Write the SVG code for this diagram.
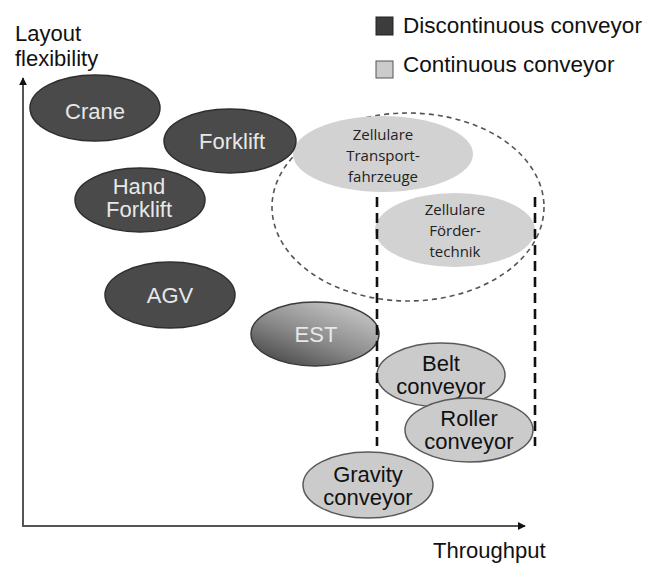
<svg xmlns="http://www.w3.org/2000/svg" width="651" height="565" viewBox="0 0 651 565">
  <defs>
    <marker id="arrow" viewBox="0 0 10 10" refX="9" refY="5" markerWidth="8" markerHeight="8" orient="auto" markerUnits="userSpaceOnUse">
      <path d="M0,0 L10,5 L0,10 z" fill="#111"/>
    </marker>
    <linearGradient id="estGrad" x1="0.85" y1="0.1" x2="0.2" y2="0.95">
      <stop offset="0" stop-color="#c4c4c4"/>
      <stop offset="0.55" stop-color="#8a8a8a"/>
      <stop offset="1" stop-color="#4e4e4e"/>
    </linearGradient>
    <style>
      .lbl { font-family: "Liberation Sans", Arial, sans-serif; font-size: 22px; fill: #111; }
      .leg { font-family: "Liberation Sans", Arial, sans-serif; font-size: 22.5px; fill: #111; }
      .axis { stroke: #555; stroke-width: 2; fill: none; }
      .dark { fill: #4a4a4a; stroke: #2e2e2e; stroke-width: 1.5; }
      .light { fill: #cbcbcb; stroke: #5a5a5a; stroke-width: 1.5; }
      .cell { fill: #d2d2d2; stroke: none; }
      .dt { font-family: "Liberation Sans", Arial, sans-serif; font-size: 22px; fill: #e8e8e8; text-anchor: middle; }
      .lt { font-family: "Liberation Sans", Arial, sans-serif; font-size: 22px; fill: #111; text-anchor: middle; }
      .ct { font-family: "Open Sans", "Noto Sans", sans-serif; font-size: 15px; fill: #222; text-anchor: middle; }
      .zone { fill: none; stroke: #555; stroke-width: 1.6; stroke-dasharray: 5 4; }
      .bound { fill: none; stroke: #111; stroke-width: 2.6; stroke-dasharray: 10 6; }
    </style>
  </defs>

  <!-- axes -->
  <g id="axes">
    <line class="axis" x1="23" y1="527" x2="23" y2="78" marker-end="url(#arrow)"/>
    <line class="axis" x1="22" y1="526" x2="525" y2="526" marker-end="url(#arrow)"/>
    <text class="lbl" x="15" y="41">Layout</text>
    <text class="lbl" x="15" y="66">flexibility</text>
    <text class="lbl" x="433" y="558">Throughput</text>
  </g>

  <!-- legend -->
  <g id="legend">
    <rect x="376" y="17" width="17" height="18" fill="#3c3c3c" stroke="#222" stroke-width="1"/>
    <text class="leg" x="403" y="33">Discontinuous conveyor</text>
    <rect x="376" y="61" width="17" height="17" fill="#cbcbcb" stroke="#555" stroke-width="1"/>
    <text class="leg" x="403" y="72">Continuous conveyor</text>
  </g>

  <!-- cellular zone -->
  <g id="cell-zone">
    <ellipse class="zone" cx="408" cy="207" rx="136" ry="94"/>
  </g>

  <g id="zellulare-transport">
    <ellipse class="cell" cx="383" cy="154" rx="90" ry="38"/>
    <text class="ct" x="383" y="140">Zellulare</text>
    <text class="ct" x="383" y="161">Transport-</text>
    <text class="ct" x="383" y="182">fahrzeuge</text>
  </g>

  <g id="zellulare-foerder">
    <ellipse class="cell" cx="455" cy="230" rx="80" ry="37"/>
    <text class="ct" x="455" y="215">Zellulare</text>
    <text class="ct" x="455" y="236">Förder-</text>
    <text class="ct" x="455" y="257">technik</text>
  </g>

  <!-- discontinuous conveyors -->
  <g id="crane">
    <ellipse class="dark" cx="95" cy="108" rx="65" ry="33"/>
    <text class="dt" x="95" y="119">Crane</text>
  </g>
  <g id="forklift">
    <ellipse class="dark" cx="230" cy="141" rx="66" ry="32"/>
    <text class="dt" x="232" y="149">Forklift</text>
  </g>
  <g id="hand-forklift">
    <ellipse class="dark" cx="140" cy="200" rx="65" ry="32"/>
    <text class="dt" x="139" y="194">Hand</text>
    <text class="dt" x="139" y="217">Forklift</text>
  </g>
  <g id="agv">
    <ellipse class="dark" cx="170" cy="295" rx="65" ry="33"/>
    <text class="dt" x="170" y="303">AGV</text>
  </g>
  <g id="est">
    <ellipse cx="315" cy="334" rx="64" ry="32" fill="url(#estGrad)" stroke="#3a3a3a" stroke-width="1.5"/>
    <text class="dt" x="316" y="342" fill="#f2f2f2">EST</text>
  </g>

  <!-- continuous conveyors -->
  <g id="belt-conveyor">
    <ellipse class="light" cx="441" cy="375" rx="64" ry="32"/>
    <text class="lt" x="441" y="371">Belt</text>
    <text class="lt" x="441" y="394">conveyor</text>
  </g>
  <g id="roller-conveyor">
    <ellipse class="light" cx="469" cy="430" rx="64" ry="32"/>
    <text class="lt" x="469" y="426">Roller</text>
    <text class="lt" x="469" y="449">conveyor</text>
  </g>
  <g id="gravity-conveyor">
    <ellipse class="light" cx="368" cy="485" rx="65" ry="33"/>
    <text class="lt" x="368" y="482">Gravity</text>
    <text class="lt" x="368" y="505">conveyor</text>
  </g>

  <!-- boundaries of the cellular conveying range -->
  <g id="connectors">
    <line class="bound" x1="377" y1="197" x2="377" y2="446"/>
    <line class="bound" x1="535" y1="197" x2="535" y2="446"/>
  </g>
</svg>
